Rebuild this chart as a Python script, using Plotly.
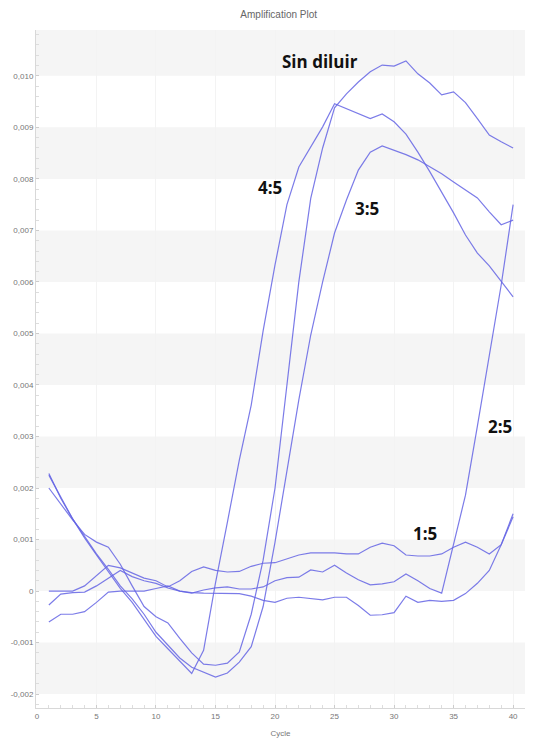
import plotly.graph_objects as go

cycles = list(range(1, 41))

sin_diluir = [0.00200, 0.00168, 0.00138, 0.00110, 0.00095, 0.00085, 0.00052, 0.00010, -0.00030, -0.00050,
              -0.00062, -0.00092, -0.00120, -0.00142, -0.00144, -0.00140, -0.00118, -0.00045, 0.00060, 0.00200,
              0.00400, 0.00600, 0.00762, 0.00860, 0.00938, 0.00965, 0.00988, 0.01008, 0.01021, 0.01019,
              0.01029, 0.01004, 0.00986, 0.00963, 0.00969, 0.00948, 0.00917, 0.00885, 0.00872, 0.00860]

dil_4_5 = [0.00228, 0.00180, 0.00140, 0.00103, 0.00070, 0.00038, 0.00005, -0.00022, -0.00055, -0.00088,
           -0.00112, -0.00135, -0.00160, -0.00115, 0.00016, 0.00134, 0.00254, 0.00361, 0.00505, 0.00633,
           0.00750, 0.00823, 0.00862, 0.00901, 0.00946, 0.00936, 0.00926, 0.00917, 0.00926, 0.00911,
           0.00887, 0.00852, 0.00814, 0.00775, 0.00734, 0.00691, 0.00656, 0.00631, 0.00600, 0.00571]

dil_3_5 = [0.00225, 0.00182, 0.00140, 0.00106, 0.00072, 0.00042, 0.00010, -0.00015, -0.00045, -0.00080,
           -0.00105, -0.00130, -0.00148, -0.00158, -0.00167, -0.00159, -0.00138, -0.00108, -0.00030, 0.00095,
           0.00235, 0.00371, 0.00497, 0.00600, 0.00695, 0.00759, 0.00817, 0.00852, 0.00864, 0.00856,
           0.00847, 0.00837, 0.00823, 0.00810, 0.00794, 0.00779, 0.00763, 0.00736, 0.00711, 0.00720]

dil_2_5 = [-0.00027, -0.00006, -0.00003, -0.00002, 0.00010, 0.00025, 0.00040, 0.00028, 0.00020, 0.00015,
           0.00006, 0.00000, -0.00004, 0.00002, 0.00006, 0.00008, 0.00004, 0.00004, 0.00008, 0.00020,
           0.00026, 0.00027, 0.00041, 0.00037, 0.00050, 0.00035, 0.00022, 0.00012, 0.00014, 0.00018,
           0.00033, 0.00020, 0.00005, -0.00004, 0.00093, 0.00186, 0.00320, 0.00454, 0.00594, 0.00750]

dil_1_5 = [0.00000, 0.00000, 0.00000, 0.00010, 0.00030, 0.00050, 0.00045, 0.00035, 0.00025, 0.00020,
           0.00008, 0.00020, 0.00038, 0.00047, 0.00040, 0.00037, 0.00038, 0.00048, 0.00054, 0.00055,
           0.00062, 0.00070, 0.00074, 0.00074, 0.00074, 0.00072, 0.00072, 0.00085, 0.00093, 0.00088,
           0.00070, 0.00068, 0.00068, 0.00072, 0.00085, 0.00095, 0.00085, 0.00072, 0.00090, 0.00150]

control = [-0.00060, -0.00045, -0.00045, -0.00040, -0.00022, -0.00002, 0.00000, 0.00000, 0.00000, 0.00005,
           0.00010, 0.00000, -0.00003, -0.00004, -0.00004, -0.00004, -0.00005, -0.00010, -0.00018, -0.00022,
           -0.00014, -0.00012, -0.00014, -0.00017, -0.00012, -0.00012, -0.00028, -0.00047, -0.00046, -0.00042,
           -0.00010, -0.00022, -0.00018, -0.00020, -0.00018, -0.00005, 0.00015, 0.00040, 0.00090, 0.00144]

y_ticks = [-0.002, -0.001, 0.0, 0.001, 0.002, 0.003, 0.004, 0.005, 0.006, 0.007, 0.008, 0.009, 0.010]
y_ticklabels = ["-0,002", "-0,001", "0", "0,001", "0,002", "0,003", "0,004", "0,005",
                "0,006", "0,007", "0,008", "0,009", "0,010"]
x_ticks = [0, 5, 10, 15, 20, 25, 30, 35, 40]

labels = [("Sin diluir", 23.8, 0.01028), ("4:5", 19.6, 0.00784), ("3:5", 27.7, 0.00743),
          ("2:5", 38.9, 0.00319), ("1:5", 32.6, 0.00112)]

series = [sin_diluir, dil_4_5, dil_3_5, dil_2_5, dil_1_5, control]
line_color = "rgba(100,100,228,0.85)"

fig = go.Figure()
for s in series:
    fig.add_trace(go.Scatter(x=cycles, y=s, mode="lines",
                             line=dict(color=line_color, width=1.2),
                             showlegend=False, hoverinfo="skip"))

# alternating horizontal bands
band_starts = [-0.002, 0.0, 0.002, 0.004, 0.006, 0.008, 0.010]
shapes = []
for b in band_starts:
    shapes.append(dict(type="rect", xref="paper", yref="y", x0=0, x1=1, y0=b, y1=b + 0.001,
                       fillcolor="#f5f5f5", line=dict(width=0), layer="below"))

annotations = []
for txt, xv, yv in labels:
    annotations.append(dict(x=xv, y=yv, text="<b>%s</b>" % txt, showarrow=False,
                            font=dict(family="Open Sans, sans-serif", size=17, color="#111111")))

small_font = "Liberation Sans Narrow, Liberation Sans, sans-serif"

fig.update_layout(
    width=536, height=743,
    margin=dict(l=36, r=11, t=30, b=35),
    paper_bgcolor="white", plot_bgcolor="white",
    separators=",.",
    shapes=shapes,
    annotations=annotations,
    title=dict(text="Amplification Plot", x=0.52, xanchor="center", y=0.985, yanchor="top",
               font=dict(family=small_font, size=10, color="#666666")),
    xaxis=dict(range=[-0.08, 41.0], tickvals=x_ticks, showgrid=True, gridcolor="#f3f3f3", gridwidth=1,
               zeroline=False, showline=True, linecolor="#d8d8d8", linewidth=1, automargin=False,
               ticks="inside", ticklen=3, tickcolor="#cccccc",
               minor=dict(dtick=1, ticks="inside", ticklen=3, tickcolor="#dddddd", showgrid=False),
               tickfont=dict(family=small_font, size=8, color="#777777"),
               title=dict(text="Cycle", standoff=10,
                          font=dict(family=small_font, size=8, color="#777777"))),
    yaxis=dict(range=[-0.00227, 0.01089], tickvals=y_ticks, ticktext=y_ticklabels, showgrid=False,
               zeroline=False, showline=True, linecolor="#d8d8d8", linewidth=1, automargin=False,
               ticks="inside", ticklen=3, tickcolor="#cccccc",
               minor=dict(dtick=0.0002, ticks="inside", ticklen=3, tickcolor="#dddddd", showgrid=False),
               tickfont=dict(family=small_font, size=8, color="#777777")),
)

fig.write_html("out.html")
